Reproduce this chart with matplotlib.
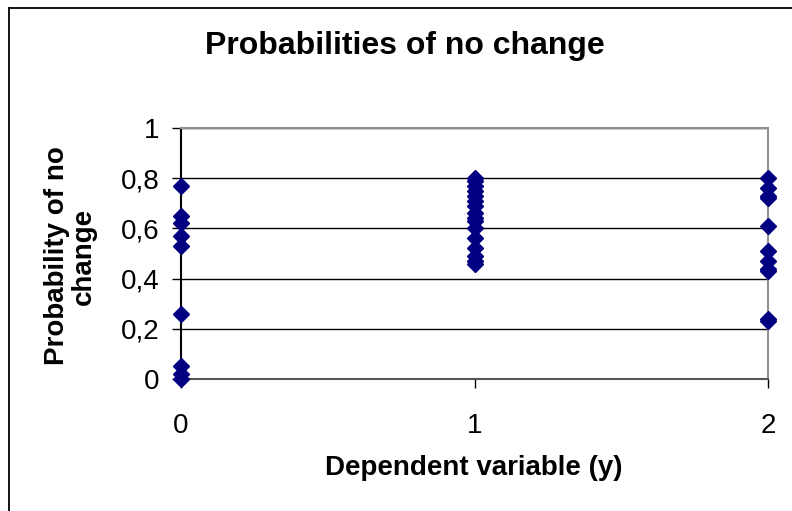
import matplotlib.pyplot as plt
from matplotlib.lines import Line2D
from matplotlib.ticker import FuncFormatter

plt.rcParams["font.family"] = ["Liberation Sans", "DejaVu Sans"]

# probability of no change, grouped by dependent variable y
Y0 = [0.77, 0.65, 0.62, 0.57, 0.53, 0.26, 0.05, 0.02, 0.0]
Y1 = [0.80, 0.79, 0.77, 0.75, 0.73, 0.71, 0.69, 0.66, 0.64, 0.63, 0.60,
      0.56, 0.52, 0.49, 0.47, 0.46]
Y2 = [0.80, 0.76, 0.73, 0.72, 0.61, 0.51, 0.47, 0.44, 0.43, 0.24, 0.23]
GROUPS = [0, 1, 2]
Y_TICKS = [0, 0.2, 0.4, 0.6, 0.8, 1]

W, H = 792, 511
fig = plt.figure(figsize=(W / 100, H / 100), dpi=100)
ax = fig.add_axes([181 / W, 1 - 379 / H, (768 - 181) / W, (379 - 128) / H])

# outer chart border (left and top edges visible)
fig.add_artist(Line2D([9 / W, 9 / W], [0, 1 - 8 / H], transform=fig.transFigure,
                      color="black", linewidth=1.3))
fig.add_artist(Line2D([9 / W, 1], [1 - 8 / H, 1 - 8 / H], transform=fig.transFigure,
                      color="black", linewidth=1.3))

for g, ys in zip(GROUPS, [Y0, Y1, Y2]):
    ax.plot([g] * len(ys), ys, linestyle="none", marker="D", markersize=8.5,
            color="#000080", clip_on=False, zorder=5)

ax.set_xlim(0, 2)
ax.set_ylim(0, 1)
ax.set_xticks(GROUPS)
ax.set_yticks(Y_TICKS)
ax.yaxis.set_major_formatter(FuncFormatter(lambda v, p: ("%g" % v).replace(".", ",")))
ax.tick_params(axis="both", labelsize=20, direction="out", length=6.5, width=1, color="black")
ax.tick_params(axis="x", pad=18)
ax.tick_params(axis="y", pad=9)
ax.grid(axis="y", color="black", linewidth=1)
ax.set_axisbelow(True)

ax.spines["left"].set_color("black")
ax.spines["bottom"].set_color("#555555")
ax.spines["top"].set_color("#909090")
ax.spines["right"].set_color("#909090")
for s in ax.spines.values():
    s.set_linewidth(1.5)

fig.text(405 / W, 1 - 46 / H, "Probabilities of no change", fontsize=23,
         fontweight="bold", ha="center", va="center")
fig.text(474 / W, 1 - 468 / H, "Dependent variable (y)", fontsize=20,
         fontweight="bold", ha="center", va="center")
fig.text(70 / W, 1 - 256 / H, "Probability of no\nchange", fontsize=20,
         fontweight="bold", ha="center", va="center", rotation=90,
         linespacing=1.05)

fig.savefig("out.png", dpi=100)
